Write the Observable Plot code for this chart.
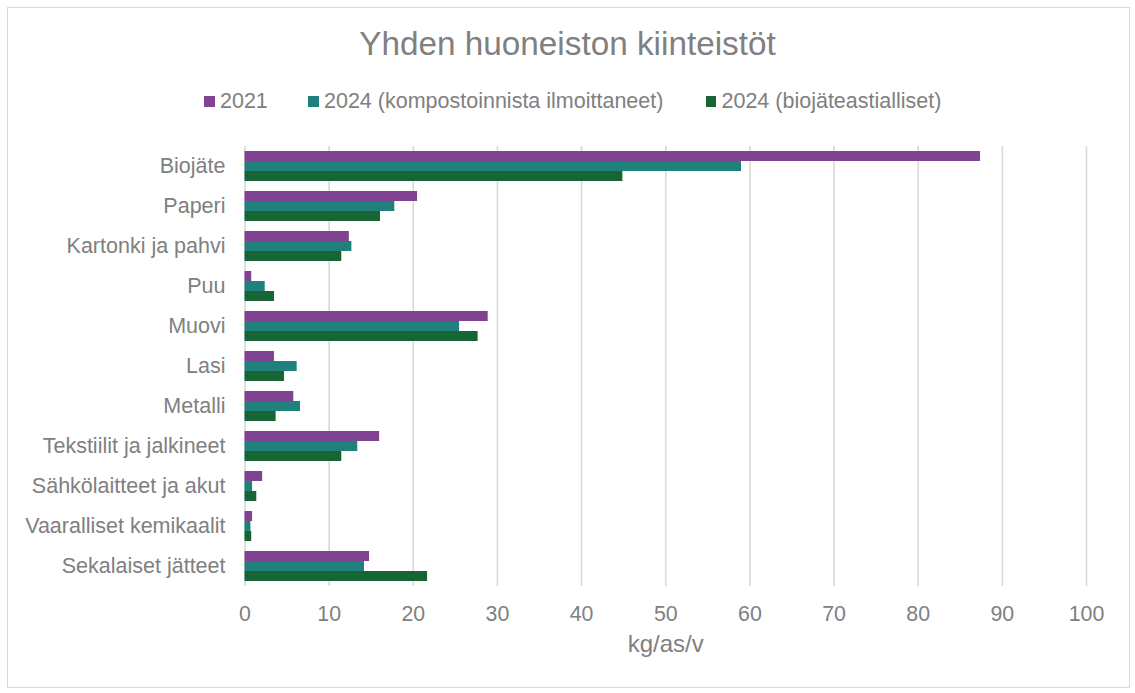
<!DOCTYPE html>
<html>
<head>
<meta charset="utf-8">
<script src="https://cdn.jsdelivr.net/npm/d3@7"></script>
<script src="https://cdn.jsdelivr.net/npm/@observablehq/plot@0.6"></script>
<style>
  html, body { margin: 0; padding: 0; background: #fff; }
  body { width: 1135px; height: 693px; position: relative; overflow: hidden;
         font-family: "Liberation Sans", Arial, sans-serif; color: #808080; }
  #frame { position: absolute; left: 6.5px; top: 6.5px; width: 1123px; height: 681px;
           box-sizing: border-box; border: 1.3px solid #d9d9d9; }
  #title { position: absolute; left: 0; width: 1135px; top: 24px; text-align: center;
           font-size: 33.3px; line-height: 40px; white-space: nowrap; }
  #legend { position: absolute; top: 88px; left: 0; height: 26px; width: 1135px; font-size: 21.5px; line-height: 26px; }
  .item { position: absolute; top: 0; white-space: nowrap; }
  .sw { position: absolute; width: 10.5px; height: 10.5px; top: 8px; }
  .lbl { position: absolute; top: 0; }
  #chart { position: absolute; left: 0; top: 0; }
</style>
</head>
<body>
<div id="frame"></div>
<div id="chart"></div>
<div id="title"></div>
<div id="legend"></div>
<script>
const title = "Yhden huoneiston kiinteistöt";
const categories = ["Biojäte", "Paperi", "Kartonki ja pahvi", "Puu", "Muovi", "Lasi", "Metalli",
  "Tekstiilit ja jalkineet", "Sähkölaitteet ja akut", "Vaaralliset kemikaalit", "Sekalaiset jätteet"];
const seriesNames = ["2021", "2024 (kompostoinnista ilmoittaneet)", "2024 (biojäteastialliset)"];
const v2021 =  [87.4, 20.5, 12.4, 0.8, 28.9, 3.5, 5.8, 16.0, 2.1, 0.9, 14.8];
const v2024k = [59.0, 17.8, 12.7, 2.4, 25.5, 6.2, 6.6, 13.4, 0.9, 0.7, 14.2];
const v2024b = [44.9, 16.1, 11.5, 3.5, 27.7, 4.7, 3.7, 11.5, 1.4, 0.8, 21.7];
const colors = ["#7f4391", "#1f807c", "#176534"];
const xTicks = [0, 10, 20, 30, 40, 50, 60, 70, 80, 90, 100];
const xLabel = "kg/as/v";

const seriesValues = [v2021, v2024k, v2024b];
const tables = seriesValues.map((vals, s) =>
  categories.map((c, i) => ({category: c, series: seriesNames[s], value: vals[i]})));

// inset per series inside each 40px band (3 bars of 10px, 10px gap)
const insets = [[5, 25], [15, 15], [25, 5]];

const textColor = "#808080";
const plot = Plot.plot({
  width: 1135,
  height: 693,
  marginLeft: 244.5,
  marginRight: 49,
  marginTop: 146,
  marginBottom: 107,
  style: {fontFamily: "'Liberation Sans', Arial, sans-serif", color: textColor, background: "transparent", overflow: "visible"},
  x: {domain: [0, 100]},
  y: {domain: categories, padding: 0, round: false},
  marks: [
    Plot.gridX(xTicks, {stroke: "#d9d9d9", strokeOpacity: 1, strokeWidth: 1.6}),
    ...tables.map((t, s) => Plot.barX(t, {
      y: "category", x: "value", fill: colors[s],
      insetTop: insets[s][0], insetBottom: insets[s][1]
    })),
    Plot.axisX({ticks: xTicks, tickSize: 0, tickPadding: 19, fontSize: 21.33, fill: textColor, label: null}),
    Plot.axisY({tickSize: 0, tickPadding: 19.5, fontSize: 21.5, fill: textColor, label: null}),
    Plot.text([xLabel], {frameAnchor: "bottom", dy: 58, lineAnchor: "middle", fontSize: 24, fill: textColor})
  ]
});
document.getElementById("chart").appendChild(plot);

document.getElementById("title").textContent = title;
const legend = document.getElementById("legend");
const swX = [204, 308, 705.5];
seriesNames.forEach((name, i) => {
  const it = document.createElement("div");
  it.className = "item";
  it.style.left = swX[i] + "px";
  const sw = document.createElement("div");
  sw.className = "sw";
  sw.style.left = "0px";
  sw.style.background = colors[i];
  const lb = document.createElement("div");
  lb.className = "lbl";
  lb.style.left = "16px";
  lb.textContent = name;
  it.appendChild(sw); it.appendChild(lb);
  legend.appendChild(it);
});
</script>
</body>
</html>
